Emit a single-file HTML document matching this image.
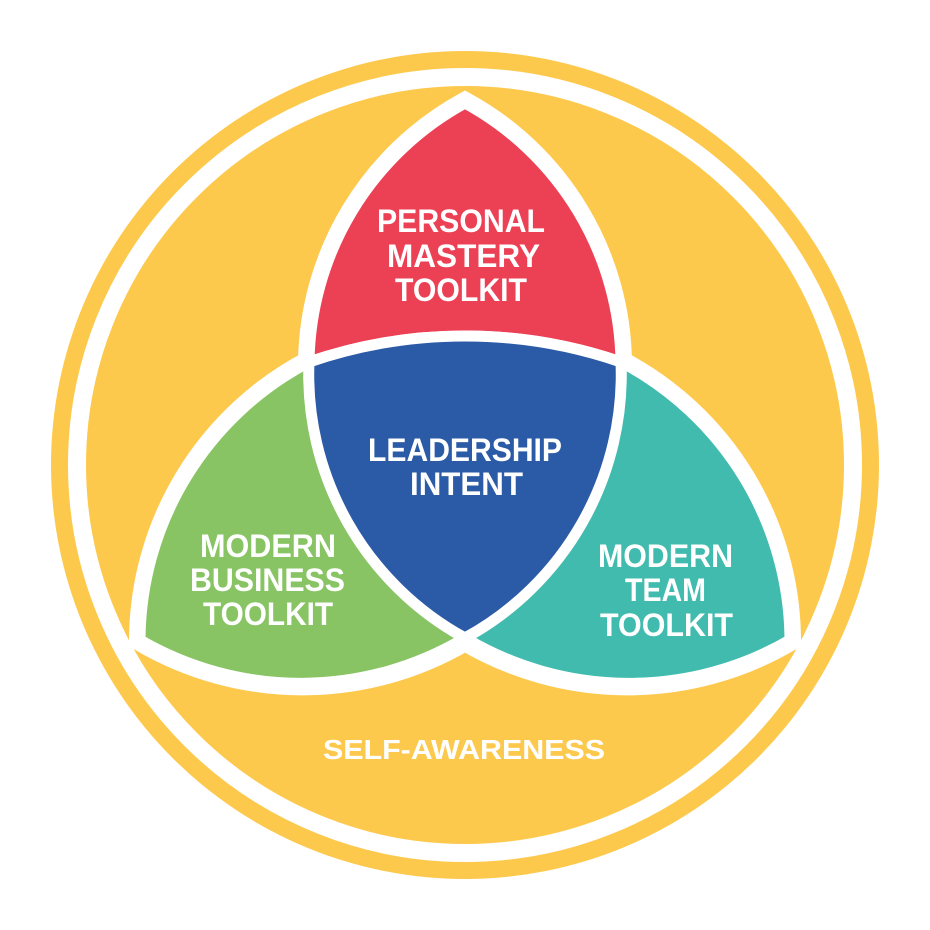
<!DOCTYPE html>
<html><head><meta charset="utf-8"><style>
html,body{margin:0;padding:0;background:#fff;}
svg{display:block;}
text{font-family:"Liberation Sans",sans-serif;font-weight:bold;fill:#fff;}
</style></head><body>
<svg width="930" height="930" viewBox="0 0 930 930" xmlns="http://www.w3.org/2000/svg">
<circle cx="465" cy="465" r="414" fill="#FDC94D"/>
<circle cx="465" cy="465" r="388" fill="none" stroke="#fff" stroke-width="18"/>
<g stroke="#fff" stroke-linejoin="miter" stroke-miterlimit="10">
<path d="M465,103 A300,300 0 0,0 309,362 A316,316 0 0,0 140,640 A320,320 0 0,0 465,640 A320,320 0 0,0 790,640 A316,316 0 0,0 621,362 A300,300 0 0,0 465,103 Z" fill="#fff" stroke-width="22"/>
<path d="M465,103 A300,300 0 0,0 309,362 A481,481 0 0,1 621,362 A300,300 0 0,0 465,103 Z" fill="#EC4055" stroke-width="11"/>
<path d="M309,362 A300,300 0 0,1 465,638 A320,320 0 0,1 140,640 A316,316 0 0,1 309,362 Z" fill="#88C463" stroke-width="11"/>
<path d="M621,362 A300,300 0 0,0 465,638 A320,320 0 0,0 790,640 A316,316 0 0,0 621,362 Z" fill="#40BBAE" stroke-width="11"/>
<path d="M309,362 A481,481 0 0,1 621,362 A300,300 0 0,1 465,638 A300,300 0 0,1 309,362 Z" fill="#2B5BA6" stroke-width="11"/>
</g>
<g font-size="32">
<text x="377" y="232" textLength="168" lengthAdjust="spacingAndGlyphs">PERSONAL</text>
<text x="387" y="267" textLength="153" lengthAdjust="spacingAndGlyphs">MASTERY</text>
<text x="395" y="301" textLength="132" lengthAdjust="spacingAndGlyphs">TOOLKIT</text>
<text x="368" y="461" textLength="194" lengthAdjust="spacingAndGlyphs">LEADERSHIP</text>
<text x="410" y="495" textLength="113" lengthAdjust="spacingAndGlyphs">INTENT</text>
<text x="200" y="557" textLength="136" lengthAdjust="spacingAndGlyphs">MODERN</text>
<text x="190" y="591" textLength="155" lengthAdjust="spacingAndGlyphs">BUSINESS</text>
<text x="203" y="625" textLength="130" lengthAdjust="spacingAndGlyphs">TOOLKIT</text>
<text x="598" y="567" textLength="135" lengthAdjust="spacingAndGlyphs">MODERN</text>
<text x="625" y="601" textLength="81" lengthAdjust="spacingAndGlyphs">TEAM</text>
<text x="600" y="636" textLength="133" lengthAdjust="spacingAndGlyphs">TOOLKIT</text>
</g>
<text x="323" y="759" font-size="28" textLength="282" lengthAdjust="spacingAndGlyphs">SELF-AWARENESS</text>
</svg>
</body></html>
